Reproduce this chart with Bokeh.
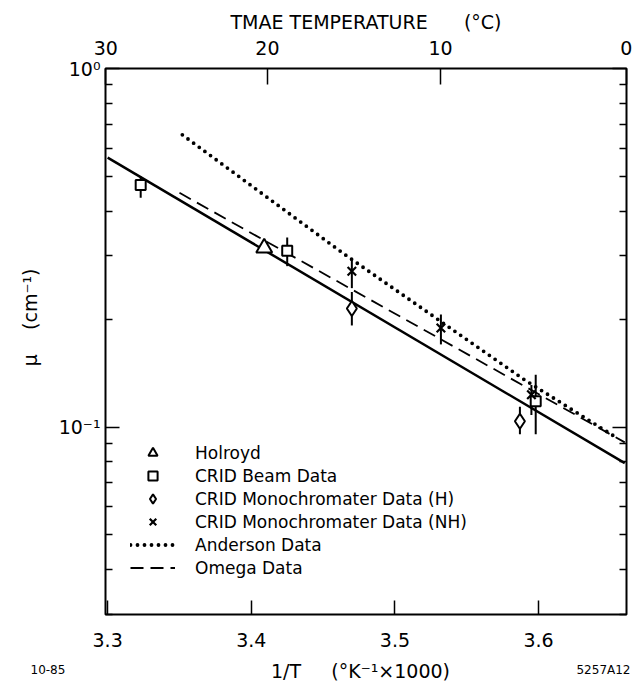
import math
from bokeh.plotting import figure
from bokeh.layouts import column
from bokeh.models import (LinearAxis, LogAxis, FixedTicker, CustomJSTickFormatter,
                          Label, Legend, LegendItem, Range1d)
from bokeh.embed import file_html
from bokeh.resources import INLINE

# ---------------- data ----------------
fit_x = [3.300, 3.660]
fit_y = [0.564, 0.0793]

omega_x = [3.350, 3.660]
omega_y = [0.450, 0.0906]

anderson_x = [3.352, 3.465, 3.590, 3.655]
anderson_y = [0.653, 0.303, 0.1356, 0.093]

holroyd_x = [3.409]
holroyd_y = [0.316]

beam_x = [3.323, 3.425, 3.598]
beam_y = [0.473, 0.310, 0.118]
beam_lo = [0.436, 0.281, 0.0955]
beam_hi = [0.500, 0.338, 0.140]

monoH_x = [3.470, 3.587]
monoH_y = [0.214, 0.1038]
monoH_lo = [0.192, 0.0955]
monoH_hi = [0.238, 0.114]

monoNH_x = [3.470, 3.532, 3.595]
monoNH_y = [0.272, 0.189, 0.123]
monoNH_lo = [0.244, 0.170, 0.108]
monoNH_hi = [0.296, 0.206, 0.131]

x_ticks = [3.3, 3.4, 3.5, 3.6]
temp_ticks_c = [30, 20, 10, 0]
y_major = [0.1, 1.0]
y_major_labels = ["10\u207b\u00b9", "10\u2070"]
y_minor = [0.03, 0.04, 0.05, 0.06, 0.07, 0.08, 0.09,
           0.2, 0.3, 0.4, 0.5, 0.6, 0.7, 0.8, 0.9]

FONT = "DejaVu Sans"
NB = "\u00a0"

# ---------------- main figure ----------------
p = figure(width=636, height=656,
           x_range=Range1d(3.2985, 3.6612), y_range=Range1d(0.03, 1.0),
           y_axis_type="log", x_axis_location=None,
           output_backend="svg", toolbar_location=None,
           min_border_left=105, min_border_right=10,
           min_border_top=68, min_border_bottom=42)
p.frame_align = False
p.grid.visible = False
p.outline_line_color = "black"
p.outline_line_width = 2
p.background_fill_color = "white"
p.border_fill_color = "white"

def style_axis(ax, tick_in, minor_in=7):
    ax.axis_line_color = None
    ax.major_tick_in = tick_in
    ax.major_tick_out = 0
    ax.minor_tick_in = minor_in
    ax.minor_tick_out = 0
    ax.major_tick_line_width = 1.5
    ax.minor_tick_line_width = 1.5
    ax.major_tick_line_color = "black"
    ax.minor_tick_line_color = "black"
    ax.major_label_text_font = FONT
    ax.major_label_text_font_size = "19px"
    ax.major_label_text_color = "black"
    ax.axis_label_text_font = FONT
    ax.axis_label_text_font_style = "normal"
    ax.axis_label_text_color = "black"

lookup_code = """
    for (let i = 0; i < vals.length; i++) {
        if (Math.abs(tick - vals[i]) < 1e-9) return labs[i];
    }
    return "";
"""

# left log axis
left = p.yaxis[0]
left.ticker = FixedTicker(ticks=y_major, minor_ticks=y_minor)
left.formatter = CustomJSTickFormatter(args=dict(vals=y_major, labs=y_major_labels),
                                       code=lookup_code)
style_axis(left, 14)
left.major_label_standoff = 5
left.axis_label = NB * 8 + "\u03bc" + NB * 4 + "(cm\u207b\u00b9)"
left.axis_label_text_font_size = "19px"
left.axis_label_standoff = 15

# right log axis (ticks only)
right = LogAxis(ticker=FixedTicker(ticks=y_major, minor_ticks=y_minor),
                formatter=CustomJSTickFormatter(code="return '';"))
style_axis(right, 14)
right.major_label_standoff = 0
right.major_label_text_font_size = "0px"
p.add_layout(right, "right")

# bottom axis 1/T
bottom = LinearAxis(ticker=FixedTicker(ticks=x_ticks, minor_ticks=[]))
style_axis(bottom, 14)
bottom.major_label_standoff = 18
p.add_layout(bottom, "below")

# top axis: TMAE temperature
temp_pos = [1000.0 / (t + 273.15) for t in temp_ticks_c]
top = LinearAxis(ticker=FixedTicker(ticks=temp_pos, minor_ticks=[]),
                 formatter=CustomJSTickFormatter(
                     args=dict(vals=temp_pos, labs=[str(t) for t in temp_ticks_c]),
                     code=lookup_code))
style_axis(top, 16)
top.major_label_standoff = 14
top.axis_label = "TMAE TEMPERATURE" + NB * 6 + "(\u00b0C)"
top.axis_label_text_font_size = "19px"
top.axis_label_standoff = 5
p.add_layout(top, "above")

# ---------------- marks ----------------
fit_r = p.line(fit_x, fit_y, line_color="black", line_width=2.5)
omega_r = p.line(omega_x, omega_y, line_color="black", line_width=1.8, line_dash="13 7")
anderson_r = p.line(anderson_x, anderson_y, line_color="black", line_width=3.8,
                    line_dash="0 7", line_cap="round")

p.segment(x0=beam_x, y0=beam_lo, x1=beam_x, y1=beam_hi, line_color="black", line_width=2)
p.segment(x0=monoH_x, y0=monoH_lo, x1=monoH_x, y1=monoH_hi, line_color="black", line_width=2)
p.segment(x0=monoNH_x, y0=monoNH_lo, x1=monoNH_x, y1=monoNH_hi, line_color="black", line_width=2)

holroyd_r = p.scatter(holroyd_x, holroyd_y, marker="triangle", size=16,
                      fill_color="white", line_color="black", line_width=2)
beam_r = p.scatter(beam_x, beam_y, marker="square", size=10,
                   fill_color="white", line_color="black", line_width=2)
monoH_r = p.scatter(monoH_x, monoH_y, marker="diamond", size=15,
                    fill_color="white", line_color="black", line_width=2)
monoNH_r = p.scatter(monoNH_x, monoNH_y, marker="x", size=12,
                     line_color="black", line_width=2.2)

legend = Legend(items=[
    LegendItem(label="Holroyd", renderers=[holroyd_r]),
    LegendItem(label="CRID Beam Data", renderers=[beam_r]),
    LegendItem(label="CRID Monochromater Data (H)", renderers=[monoH_r]),
    LegendItem(label="CRID Monochromater Data (NH)", renderers=[monoNH_r]),
    LegendItem(label="Anderson Data", renderers=[anderson_r]),
    LegendItem(label="Omega Data", renderers=[omega_r]),
], location=(25, 35), glyph_width=45, glyph_height=23, label_height=20,
   label_standoff=20, spacing=0, padding=0, margin=0, border_line_color=None,
   background_fill_alpha=0, label_text_font=FONT, label_text_font_size="17px",
   label_text_color="black")
p.add_layout(legend)

# ---------------- bottom strip with axis title and corner notes ----------------
s = figure(width=636, height=25, x_range=Range1d(0, 636), y_range=Range1d(0, 25),
           x_axis_location=None, y_axis_location=None,
           output_backend="svg", toolbar_location=None,
           min_border=0, min_border_left=0, min_border_right=0,
           min_border_top=0, min_border_bottom=0)
s.frame_align = False
s.grid.visible = False
s.outline_line_color = None
s.background_fill_color = "white"
s.border_fill_color = "white"

def add_label(fig, text, x, y, size="19px", align="center"):
    fig.add_layout(Label(x=x, y=y, x_units="screen", y_units="screen", text=text,
                         text_font=FONT, text_font_size=size, text_color="black",
                         text_align=align, text_baseline="middle"))

add_label(s, "1/T" + NB * 5 + "(\u00b0K\u207b\u00b9\u00d71000)", 360, 11)
add_label(s, "10-85", 30, 12, size="12px", align="left")
add_label(s, "5257A12", 630, 12, size="12px", align="right")

open("out.html", "w").write(file_html(column(p, s, spacing=0), INLINE))
